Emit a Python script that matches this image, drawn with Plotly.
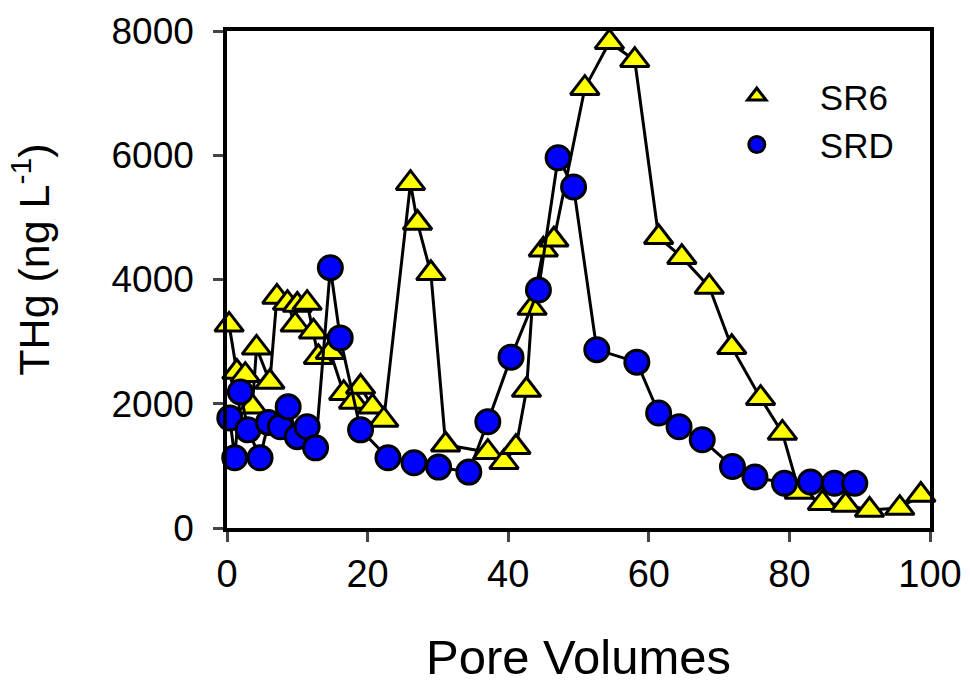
import plotly.graph_objects as go

sr6_x = [0.3, 1.4, 2.6, 3.6, 4.2, 6.1, 7.1, 8.6, 9.7, 10.0, 11.4, 12.3, 13.0, 14.7, 16.6, 18.0,
         19.0, 20.7, 22.3, 26.1, 27.1, 29.0, 31.1, 37.1, 39.4, 41.1, 42.6, 43.4, 45.0, 46.5,
         50.9, 54.4, 58.0, 61.4, 64.7, 68.6, 71.8, 75.9, 79.0, 81.4, 84.7, 88.0, 91.4, 95.7, 98.7]
sr6_y = [3270, 2510, 2460, 1950, 2900, 2350, 3720, 3620, 3270, 3590, 3620, 3160, 2750, 2830, 2170, 2030,
         2270, 1950, 1740, 5550, 4910, 4100, 1340, 1220, 1060, 1300, 2220, 3540, 4480, 4640,
         7080, 7820, 7530, 4680, 4360, 3880, 2910, 2090, 1530, 580, 400, 370, 290, 320, 530]

srd_x = [0.4, 1.1, 1.9, 3.0, 4.7, 5.9, 7.6, 8.7, 10.0, 11.4, 12.6, 14.7, 16.1, 19.0, 22.9, 26.6,
         30.1, 34.4, 37.1, 40.4, 44.3, 47.1, 49.3, 52.6, 58.3, 61.4, 64.3, 67.6, 71.9, 75.1,
         79.3, 83.0, 86.4, 89.3]
srd_y = [1770, 1130, 2190, 1580, 1130, 1700, 1630, 1950, 1470, 1630, 1290, 4190, 3060, 1580, 1130, 1050,
         980, 900, 1710, 2750, 3830, 5960, 5490, 2870, 2670, 1850, 1630, 1420, 990, 820,
         720, 740, 720, 720]

x_ticks = [0, 20, 40, 60, 80, 100]
y_ticks = [0, 2000, 4000, 6000, 8000]

FONT = "Liberation Sans, Arial, sans-serif"

fig = go.Figure()
fig.add_trace(go.Scatter(x=sr6_x, y=sr6_y, mode="lines", line=dict(color="black", width=3),
                         showlegend=False, hoverinfo="skip", cliponaxis=False))
fig.add_trace(go.Scatter(x=sr6_x, y=sr6_y, mode="markers", name="SR6", legendgroup="a",
                         marker=dict(symbol="triangle-up", size=25, color="#FFFF00",
                                     line=dict(color="black", width=3)), cliponaxis=False))
fig.add_trace(go.Scatter(x=srd_x, y=srd_y, mode="lines", line=dict(color="black", width=3),
                         showlegend=False, hoverinfo="skip", cliponaxis=False))
fig.add_trace(go.Scatter(x=srd_x, y=srd_y, mode="markers", name="SRD", legendgroup="b",
                         marker=dict(symbol="circle", size=24, color="#0000FF",
                                     line=dict(color="black", width=3)), cliponaxis=False))

fig.add_annotation(text="THg (ng L<sup>-1</sup>)", xref="paper", yref="paper",
                   x=-0.278, y=0.539, xanchor="center", yanchor="middle", textangle=-90,
                   showarrow=False, font=dict(size=43, family=FONT, color="black"))

fig.update_layout(
    width=970, height=687,
    margin=dict(l=227, r=40, t=31, b=159, autoexpand=False),
    paper_bgcolor="white", plot_bgcolor="white",
    font=dict(family=FONT, color="black"),
    showlegend=True,
    legend=dict(x=0.664, y=0.928, xanchor="left", yanchor="top", bgcolor="rgba(0,0,0,0)",
                font=dict(size=35, family=FONT), tracegroupgap=0, itemsizing="trace",
                itemwidth=116),
    xaxis=dict(range=[0, 100], tickvals=x_ticks, ticks="outside", ticklen=10, tickwidth=3,
               showline=True, linewidth=3.5, linecolor="black", mirror=True, showgrid=False,
               zeroline=False, tickfont=dict(size=38, family=FONT), automargin=False,
               title=dict(text="Pore Volumes", font=dict(size=49, family=FONT), standoff=46)),
    yaxis=dict(range=[0, 8000], tickvals=y_ticks, ticks="outside", ticklen=10, tickwidth=3,
               showline=True, linewidth=3.5, linecolor="black", mirror=True, showgrid=False,
               zeroline=False, tickfont=dict(size=37, family=FONT), ticklabelstandoff=12,
               automargin=False),
)

fig.write_html("out.html")
